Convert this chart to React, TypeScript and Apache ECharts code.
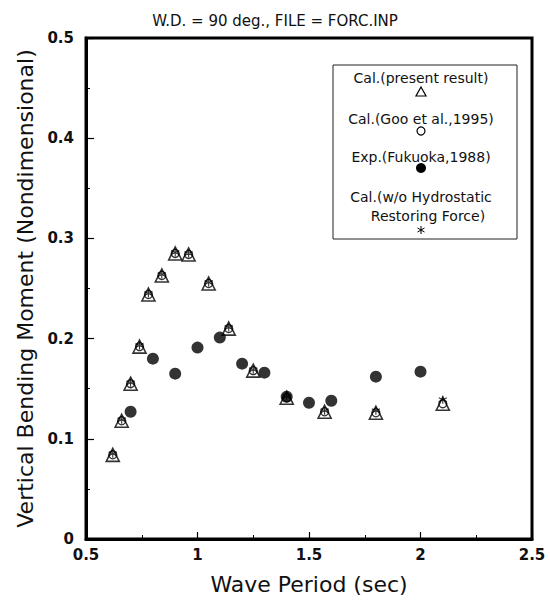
import React, { useEffect, useRef } from 'react';
import * as echarts from 'echarts';

const titleText = 'W.D. = 90 deg., FILE = FORC.INP';
const xAxisName = 'Wave Period (sec)';
const yAxisName = 'Vertical Bending Moment (Nondimensional)';

const xMin = 0.5;
const xMax = 2.5;
const xStep = 0.5;
const yMin = 0;
const yMax = 0.5;
const yStep = 0.1;

const calcPeriods = [0.62, 0.66, 0.70, 0.74, 0.78, 0.84, 0.90, 0.96, 1.05, 1.14, 1.25, 1.40, 1.57, 1.80, 2.10];
const presentResult = [0.084, 0.118, 0.155, 0.192, 0.244, 0.263, 0.285, 0.284, 0.255, 0.210, 0.168, 0.141, 0.127, 0.126, 0.135];
const gooResult = [0.084, 0.118, 0.155, 0.192, 0.244, 0.263, 0.285, 0.284, 0.255, 0.210, 0.168, 0.141, 0.127, 0.126, 0.135];
const withoutHydrostatic = [0.085, 0.119, 0.156, 0.193, 0.245, 0.264, 0.286, 0.285, 0.256, 0.211, 0.169, 0.142, 0.128, 0.128, 0.139];

const expPeriods = [0.70, 0.80, 0.90, 1.00, 1.10, 1.20, 1.30, 1.40, 1.50, 1.60, 1.80, 2.00];
const expResult = [0.127, 0.180, 0.165, 0.191, 0.201, 0.175, 0.166, 0.142, 0.136, 0.138, 0.162, 0.167];

const legendLabels = [
  'Cal.(present result)',
  'Cal.(Goo et al.,1995)',
  'Exp.(Fukuoka,1988)',
  'Cal.(w/o Hydrostatic',
  'Restoring Force)',
];

const FONT = '"DejaVu Sans", "Liberation Sans", Arial, sans-serif';
const asteriskPath = 'path://M5 0L5 10M0.67 2.5L9.33 7.5M0.67 7.5L9.33 2.5';

function pairs(xs: number[], ys: number[]) {
  return xs.map((x, i) => [x, ys[i]]);
}

export default function App() {
  const ref = useRef<HTMLDivElement>(null);

  useEffect(() => {
    if (!ref.current) return;
    const chart = echarts.init(ref.current, null, { renderer: 'svg' });

    const lx = 421;
    const legendText = (text: string, x: number, y: number) => ({
      type: 'text',
      style: {
        text,
        x,
        y,
        align: 'center',
        verticalAlign: 'middle',
        fontSize: 14,
        fontFamily: FONT,
        fill: '#111',
      },
    });

    const option: any = {
      animation: false,
      backgroundColor: '#fff',
      title: {
        text: titleText,
        left: 'center',
        top: 8,
        textStyle: { fontSize: 15, fontWeight: 'normal', fontFamily: FONT, color: '#111' },
      },
      grid: {
        left: 86,
        right: 18,
        top: 38,
        bottom: 60,
        show: true,
        borderColor: '#000',
        borderWidth: 3,
        backgroundColor: 'transparent',
      },
      xAxis: {
        type: 'value',
        min: xMin,
        max: xMax,
        interval: xStep,
        name: xAxisName,
        nameLocation: 'middle',
        nameGap: 34,
        nameTextStyle: { fontSize: 22, fontFamily: FONT, color: '#111' },
        axisLine: { show: true, onZero: false, lineStyle: { color: '#000', width: 3 } },
        axisTick: { show: true, inside: true, length: 7, lineStyle: { color: '#000', width: 1.2 } },
        minorTick: { show: true, splitNumber: 2, length: 4, lineStyle: { color: '#000', width: 1 } },
        axisLabel: { fontSize: 15, fontWeight: 'bold', fontFamily: FONT, color: '#111', margin: 8 },
        splitLine: { show: false },
        minorSplitLine: { show: false },
      },
      yAxis: {
        type: 'value',
        min: yMin,
        max: yMax,
        interval: yStep,
        name: yAxisName,
        nameLocation: 'middle',
        nameGap: 46,
        nameTextStyle: { fontSize: 22, fontFamily: FONT, color: '#111' },
        axisLine: { show: true, onZero: false, lineStyle: { color: '#000', width: 3 } },
        axisTick: { show: true, inside: true, length: 8, lineStyle: { color: '#000', width: 1.2 } },
        minorTick: { show: true, splitNumber: 2, length: 4, lineStyle: { color: '#000', width: 1 } },
        axisLabel: {
          fontSize: 15,
          fontWeight: 'bold',
          fontFamily: FONT,
          color: '#111',
          margin: 12,
          formatter: (v: number) => (v === 0 ? '0' : v.toFixed(1)),
        },
        splitLine: { show: false },
        minorSplitLine: { show: false },
      },
      series: [
        {
          type: 'scatter',
          name: legendLabels[0],
          data: pairs(calcPeriods, presentResult),
          symbol: 'triangle',
          symbolSize: 13,
          itemStyle: { color: '#fff', borderColor: '#000', borderWidth: 1.6 },
          silent: true,
          z: 2,
        },
        {
          type: 'scatter',
          name: legendLabels[1],
          data: pairs(calcPeriods, gooResult),
          symbol: 'circle',
          symbolSize: 8,
          itemStyle: { color: 'transparent', borderColor: '#000', borderWidth: 1.3 },
          silent: true,
          z: 3,
        },
        {
          type: 'scatter',
          name: legendLabels[3] + ' ' + legendLabels[4],
          data: pairs(calcPeriods, withoutHydrostatic),
          symbol: asteriskPath,
          symbolSize: 8,
          itemStyle: { color: 'none', borderColor: '#000', borderWidth: 1.1 },
          silent: true,
          z: 4,
        },
        {
          type: 'scatter',
          name: legendLabels[2],
          data: pairs(expPeriods, expResult),
          symbol: 'circle',
          symbolSize: 12,
          itemStyle: { color: '#000' },
          silent: true,
          z: 5,
        },
      ],
      graphic: [
        {
          type: 'group',
          z: 100,
          children: [
            {
              type: 'rect',
              shape: { x: 333, y: 65, width: 184, height: 174 },
              style: { fill: '#fff', stroke: '#222', lineWidth: 1 },
            },
            legendText(legendLabels[0], lx, 78),
            {
              type: 'polygon',
              shape: { points: [[lx, 87], [lx + 5, 96], [lx - 5, 96]] },
              style: { fill: '#fff', stroke: '#000', lineWidth: 1.2 },
            },
            legendText(legendLabels[1], lx, 119),
            {
              type: 'circle',
              shape: { cx: lx, cy: 131, r: 4 },
              style: { fill: '#fff', stroke: '#000', lineWidth: 1.2 },
            },
            legendText(legendLabels[2], lx, 157),
            {
              type: 'circle',
              shape: { cx: lx, cy: 168, r: 5 },
              style: { fill: '#000' },
            },
            legendText(legendLabels[3], lx, 197),
            legendText(legendLabels[4], lx + 7, 216),
            {
              type: 'group',
              children: [
                { type: 'line', shape: { x1: lx, y1: 226, x2: lx, y2: 234 }, style: { stroke: '#000', lineWidth: 1 } },
                { type: 'line', shape: { x1: lx - 3.5, y1: 228, x2: lx + 3.5, y2: 232 }, style: { stroke: '#000', lineWidth: 1 } },
                { type: 'line', shape: { x1: lx - 3.5, y1: 232, x2: lx + 3.5, y2: 228 }, style: { stroke: '#000', lineWidth: 1 } },
              ],
            },
          ],
        },
      ],
    };

    chart.setOption(option);
    return () => chart.dispose();
  }, []);

  return (
    <div
      ref={ref}
      style={{ position: 'absolute', left: 0, top: 0, width: 550, height: 600, background: '#fff' }}
    />
  );
}
